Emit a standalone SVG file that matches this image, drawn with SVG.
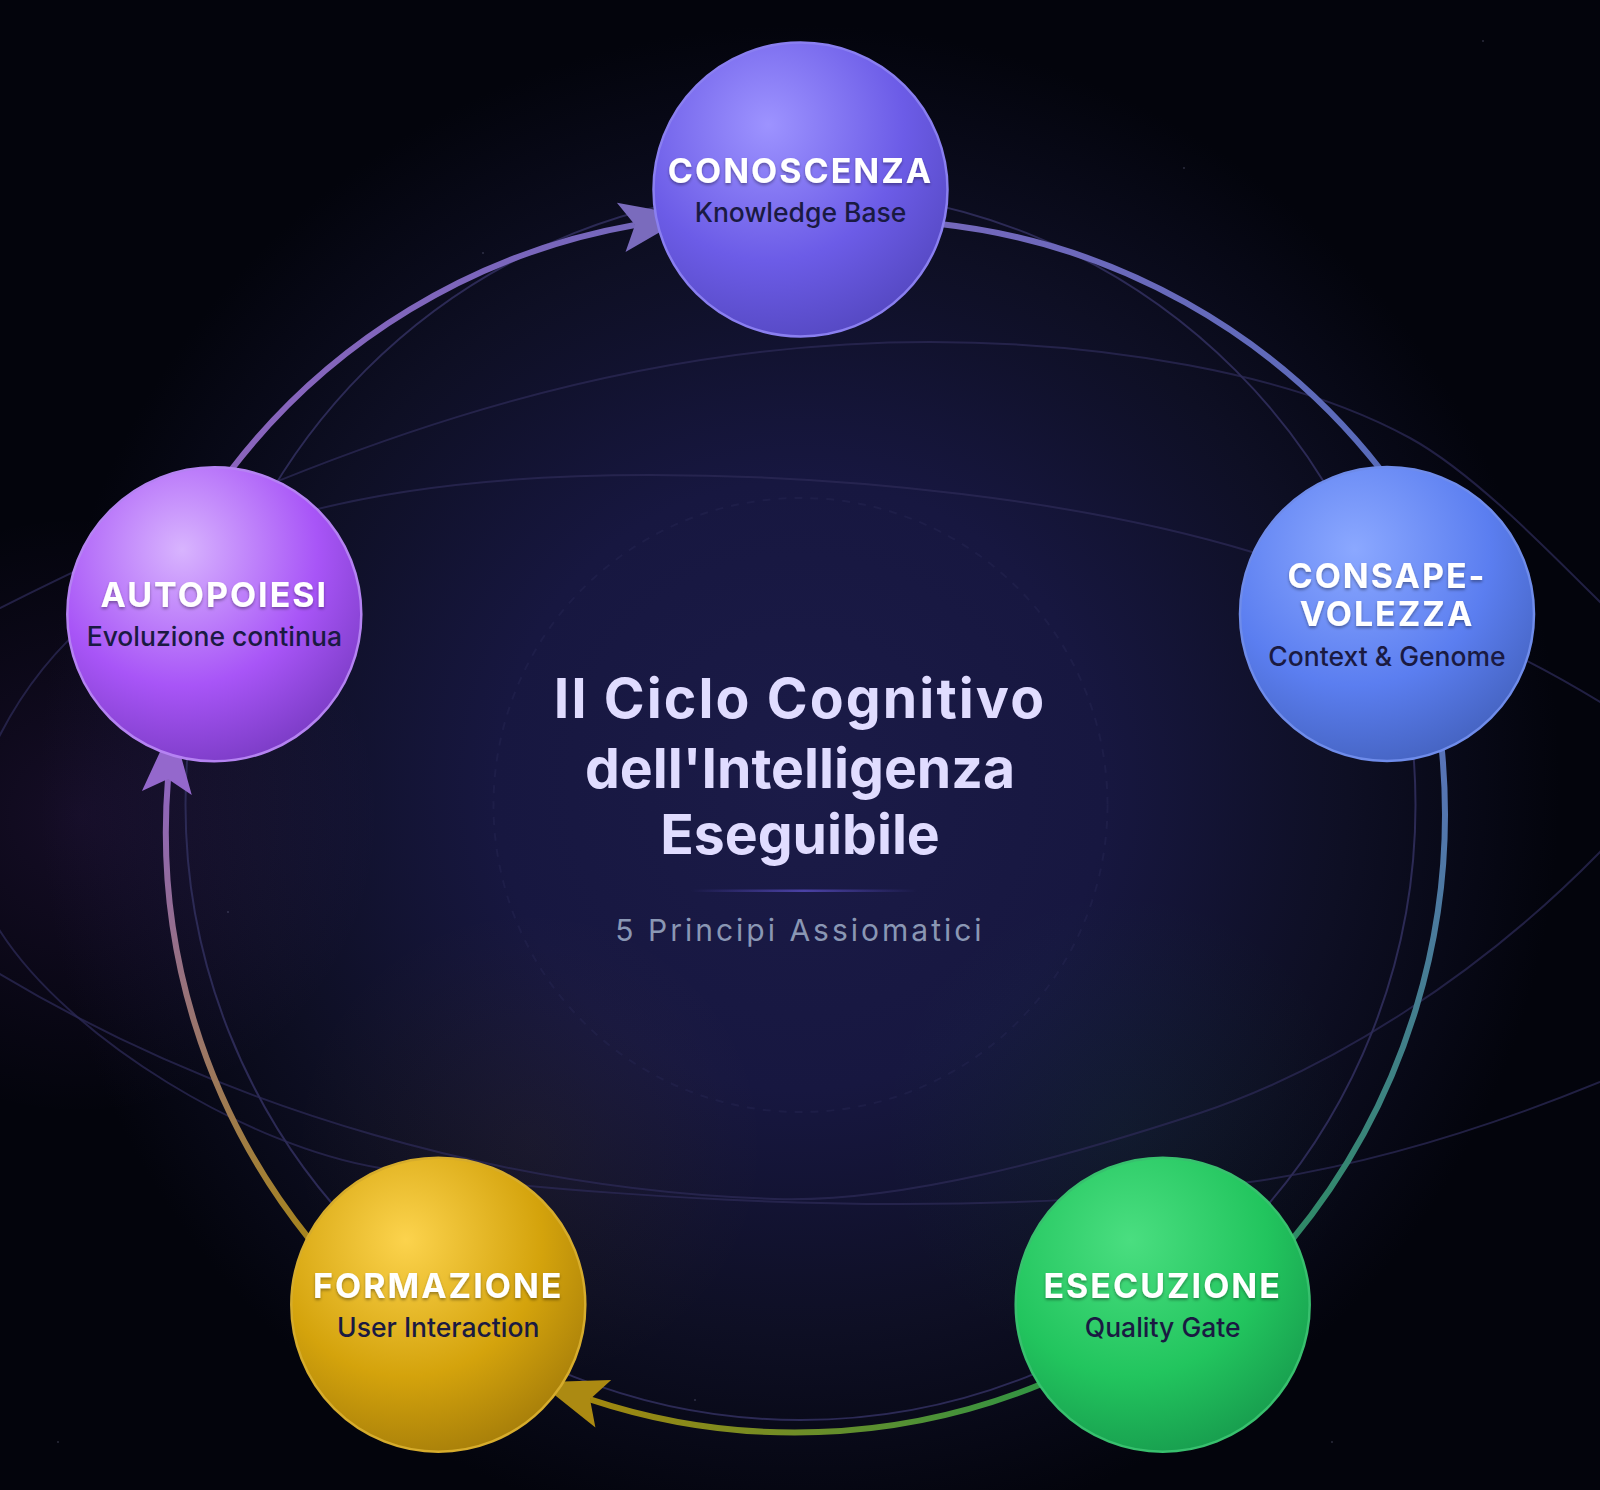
<svg xmlns="http://www.w3.org/2000/svg" width="1600" height="1490" viewBox="0 0 1600 1490">
<defs>
<radialGradient id="bg" gradientUnits="userSpaceOnUse" cx="800" cy="785" r="760">
<stop offset="0" stop-color="#1b1b48"/><stop offset="0.4" stop-color="#171740"/><stop offset="0.72" stop-color="#0e0f24"/><stop offset="0.9" stop-color="#070815"/><stop offset="1" stop-color="#03040c"/>
</radialGradient>
<radialGradient id="glowP"><stop offset="0" stop-color="#a855f7" stop-opacity="0.11"/><stop offset="1" stop-color="#a855f7" stop-opacity="0"/></radialGradient>
<radialGradient id="glowY"><stop offset="0" stop-color="#eab308" stop-opacity="0.04"/><stop offset="1" stop-color="#eab308" stop-opacity="0"/></radialGradient>
<radialGradient id="glowG"><stop offset="0" stop-color="#22c55e" stop-opacity="0.05"/><stop offset="1" stop-color="#22c55e" stop-opacity="0"/></radialGradient>
<radialGradient id="nIndigo" cx="0.39" cy="0.28" r="0.84"><stop offset="0" stop-color="#9d93ff"/><stop offset="0.55" stop-color="#6c5ce7"/><stop offset="1" stop-color="#4f43b8"/></radialGradient>
<radialGradient id="nBlue" cx="0.39" cy="0.28" r="0.84"><stop offset="0" stop-color="#8ba8ff"/><stop offset="0.55" stop-color="#5b7ef0"/><stop offset="1" stop-color="#3f5cb4"/></radialGradient>
<radialGradient id="nGreen" cx="0.39" cy="0.28" r="0.84"><stop offset="0" stop-color="#4ade80"/><stop offset="0.55" stop-color="#22c55e"/><stop offset="1" stop-color="#15924a"/></radialGradient>
<radialGradient id="nGold" cx="0.39" cy="0.28" r="0.84"><stop offset="0" stop-color="#fcd34d"/><stop offset="0.55" stop-color="#d4a30c"/><stop offset="1" stop-color="#9a7409"/></radialGradient>
<radialGradient id="nPurple" cx="0.39" cy="0.28" r="0.84"><stop offset="0" stop-color="#d8b4fe"/><stop offset="0.55" stop-color="#a855f7"/><stop offset="1" stop-color="#6f35b8"/></radialGradient>
<linearGradient id="a1" gradientUnits="userSpaceOnUse" x1="946" y1="225" x2="1377" y2="465"><stop offset="0" stop-color="#7468bc"/><stop offset="1" stop-color="#586bba"/></linearGradient>
<linearGradient id="a2" gradientUnits="userSpaceOnUse" x1="1441" y1="752" x2="1295" y2="1237"><stop offset="0" stop-color="#5873b8"/><stop offset="1" stop-color="#2f8a66"/></linearGradient>
<linearGradient id="a3" gradientUnits="userSpaceOnUse" x1="1039" y1="1385" x2="590" y2="1399"><stop offset="0" stop-color="#329443"/><stop offset="1" stop-color="#a2870f"/></linearGradient>
<linearGradient id="a4" gradientUnits="userSpaceOnUse" x1="307" y1="1235" x2="168" y2="779"><stop offset="0" stop-color="#a6841f"/><stop offset="1" stop-color="#8e65c0"/></linearGradient>
<linearGradient id="a5" gradientUnits="userSpaceOnUse" x1="235" y1="465" x2="635" y2="225"><stop offset="0" stop-color="#8a64bc"/><stop offset="1" stop-color="#7567bc"/></linearGradient>
<linearGradient id="divider"><stop offset="0" stop-color="#6c5ce7" stop-opacity="0"/><stop offset="0.5" stop-color="#6c5ce7" stop-opacity="0.6"/><stop offset="1" stop-color="#6c5ce7" stop-opacity="0"/></linearGradient>
<marker id="mP" markerUnits="userSpaceOnUse" markerWidth="70" markerHeight="52" refX="14" refY="26" orient="auto" overflow="visible"><path d="M0 1L68 26L0 51L14 26Z" fill="#9468cc"/></marker>
<marker id="mI" markerUnits="userSpaceOnUse" markerWidth="70" markerHeight="52" refX="14" refY="26" orient="auto" overflow="visible"><path d="M0 1L68 26L0 51L14 26Z" fill="#7a6bbd"/></marker>
<marker id="mG" markerUnits="userSpaceOnUse" markerWidth="70" markerHeight="52" refX="14" refY="26" orient="auto" overflow="visible"><path d="M0 1L68 26L0 51L14 26Z" fill="#ac8a12"/></marker>
<filter id="ts" x="-10%" y="-30%" width="120%" height="170%"><feDropShadow dx="0" dy="2" stdDeviation="1.5" flood-color="#000" flood-opacity="0.35"/></filter>
</defs>
<style>
text{text-anchor:middle;font-family:"Inter","Liberation Sans",sans-serif}
.t{font-size:34px;font-weight:700;letter-spacing:2px;fill:#fff;filter:url(#ts)}
.s{font-size:26.5px;font-weight:450;fill:#1a1a42}
.h{font-size:55.3px;font-weight:700;fill:#e0dcff}
.sub{font-size:30px;font-weight:400;letter-spacing:3px;fill:#8a97b4}
.orb{fill:none;stroke:#2c2a55;stroke-width:2}
.arc{fill:none;stroke-width:6}
.nd{stroke-width:2.5}
.star{fill:#8a8ab0;opacity:.5}
</style>
<rect width="1600" height="1490" fill="url(#bg)"/>
<circle cx="80" cy="815" r="300" fill="url(#glowP)"/>
<circle cx="530" cy="1145" r="240" fill="url(#glowY)"/>
<circle cx="1120" cy="1130" r="240" fill="url(#glowG)"/>
<g id="stars">
<circle class="star" cx="483" cy="253" r="0.8"/><circle class="star" cx="228" cy="912" r="0.8"/><circle class="star" cx="695" cy="1400" r="0.8"/><circle class="star" cx="1332" cy="1442" r="0.8"/><circle class="star" cx="1483" cy="41" r="0.8"/><circle class="star" cx="1184" cy="168" r="0.8"/><circle class="star" cx="58" cy="1442" r="0.8"/>
</g>
<g id="orbits">
<path class="orb" stroke-opacity="0.75" d="M0 608C310 453 600 342 930 342C1100 342 1290 372 1410 438C1470 471 1540 542 1600 602C1700 702 1700 757 1600 852C1480 975 1330 1070 1200 1113C1060 1159 900 1203 775 1199C510 1190.5 230 1112 0 974C-150 884 -150 683 0 608Z"/>
<path class="orb" stroke-opacity="0.75" d="M0 735C100 540 330 475 650 475C850 475 1080 500 1252 552C1370 587 1500 640 1600 702C1780 814 1780 1000 1600 1082C1490 1127 1370 1165 1250 1182C1130 1199 1020 1204 900 1204C720 1204 500 1187 380 1168C250 1147 70 1040 0 931C-40 877 -40 813 0 735Z"/>
<circle cx="800.5" cy="805" r="307" fill="none" stroke="#2c2a58" stroke-width="2" stroke-dasharray="8 8" stroke-opacity="0.35"/>
<circle class="orb" cx="800.5" cy="805" r="615" stroke="#322f5e"/>
</g>
<g id="connectors">
<path class="arc" stroke="url(#a1)" d="M940 224A650 650 0 0 1 1381 470"/>
<path class="arc" stroke="url(#a2)" d="M1441.5 746A670 670 0 0 1 1291 1241"/>
<path class="arc" stroke="url(#a3)" marker-end="url(#mG)" d="M1044 1383A650 650 0 0 1 590 1399.3"/>
<path class="arc" stroke="url(#a4)" marker-end="url(#mP)" d="M310 1240A650 650 0 0 1 168 779"/>
<path class="arc" stroke="url(#a5)" marker-end="url(#mI)" d="M231 470A650 650 0 0 1 635 225"/>
</g>
<g id="center">
<text class="h" x="800" y="718" letter-spacing="2.1">Il Ciclo Cognitivo</text>
<text class="h" x="800" y="788">dell'Intelligenza</text>
<text class="h" x="800" y="854">Eseguibile</text>
<rect x="691" y="889.5" width="226" height="2.5" fill="url(#divider)"/>
<text class="sub" x="800" y="941">5 Principi Assiomatici</text>
</g>
<g id="node-conoscenza">
<circle class="nd" cx="800.5" cy="189.5" r="147" fill="url(#nIndigo)" stroke="#8a7ff0"/>
<text class="t" x="800.5" y="183">CONOSCENZA</text>
<text class="s" x="800.5" y="221.7">Knowledge Base</text>
</g>
<g id="node-consapevolezza">
<circle class="nd" cx="1387" cy="614" r="147" fill="url(#nBlue)" stroke="#6f8cea"/>
<text class="t" x="1387" y="587.5">CONSAPE-</text>
<text class="t" x="1387" y="626">VOLEZZA</text>
<text class="s" x="1387" y="666">Context &amp; Genome</text>
</g>
<g id="node-esecuzione">
<circle class="nd" cx="1162.7" cy="1304.7" r="147" fill="url(#nGreen)" stroke="#38c06e"/>
<text class="t" x="1162.7" y="1297.5">ESECUZIONE</text>
<text class="s" x="1162.7" y="1337">Quality Gate</text>
</g>
<g id="node-formazione">
<circle class="nd" cx="438.3" cy="1304.7" r="147" fill="url(#nGold)" stroke="#d6ac2c"/>
<text class="t" x="438.3" y="1297.5">FORMAZIONE</text>
<text class="s" x="438.3" y="1337">User Interaction</text>
</g>
<g id="node-autopoiesi">
<circle class="nd" cx="214.3" cy="614.3" r="147" fill="url(#nPurple)" stroke="#b583f2"/>
<text class="t" x="214.3" y="607">AUTOPOIESI</text>
<text class="s" x="214.3" y="646">Evoluzione continua</text>
</g>
</svg>
